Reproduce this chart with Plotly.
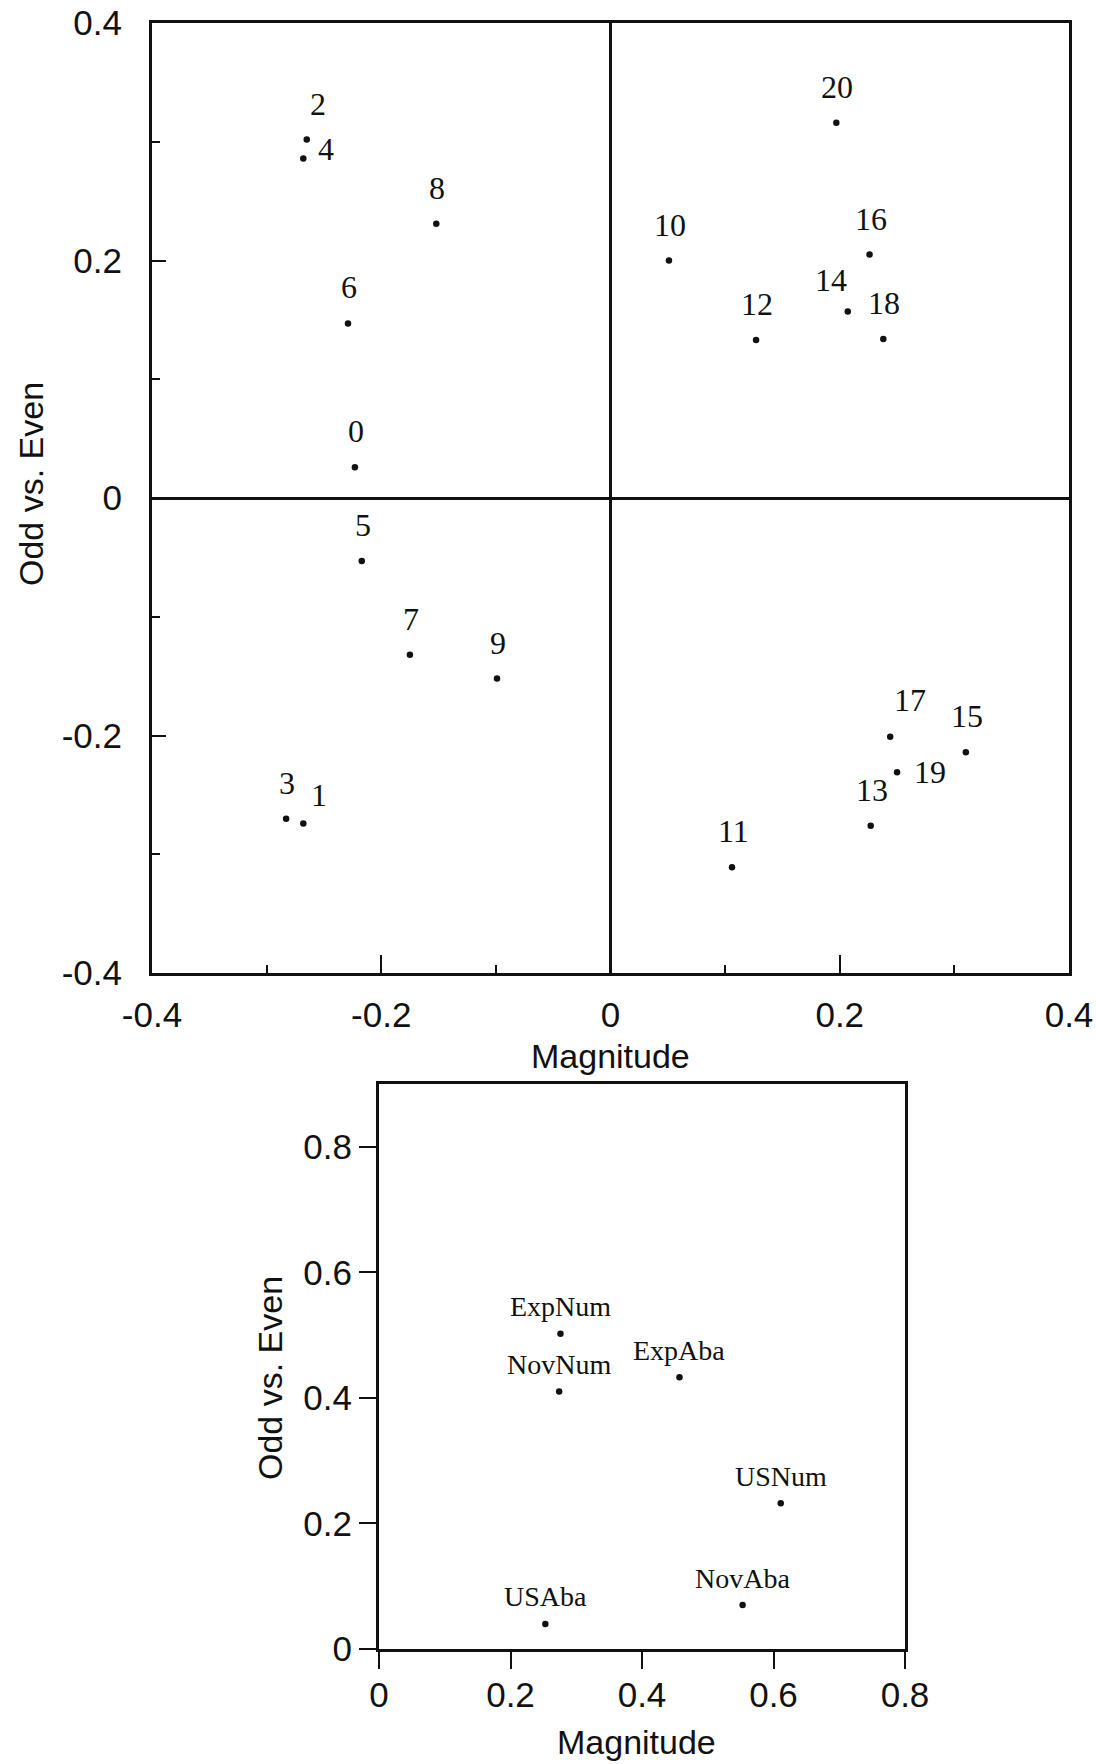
import plotly.graph_objects as go

# ---- Upper panel: numerals 0-20 on Magnitude vs. Odd/Even dimensions ----
num_labels = ["0", "1", "2", "3", "4", "5", "6", "7", "8", "9", "10",
              "11", "12", "13", "14", "15", "16", "17", "18", "19", "20"]
num_magnitude = [-0.223, -0.268, -0.265, -0.283, -0.268, -0.217, -0.229, -0.175,
                 -0.152, -0.099, 0.051, 0.106, 0.127, 0.227, 0.207, 0.310,
                 0.226, 0.244, 0.238, 0.250, 0.197]
num_odd_even = [0.026, -0.274, 0.302, -0.270, 0.286, -0.053, 0.147, -0.132,
                0.231, -0.152, 0.200, -0.311, 0.133, -0.276, 0.157, -0.214,
                0.205, -0.201, 0.134, -0.231, 0.316]

# ---- Lower panel: groups ----
grp_labels = ["ExpNum", "NovNum", "ExpAba", "USNum", "NovAba", "USAba"]
grp_magnitude = [0.276, 0.274, 0.457, 0.611, 0.553, 0.253]
grp_odd_even = [0.502, 0.410, 0.433, 0.232, 0.070, 0.040]

# tick labels
top_ticks = [-0.4, -0.2, 0, 0.2, 0.4]
top_ticktext = ["-0.4", "-0.2", "0", "0.2", "0.4"]
bot_xticks = [0, 0.2, 0.4, 0.6, 0.8]
bot_xticktext = ["0", "0.2", "0.4", "0.6", "0.8"]
bot_yticks = [0, 0.2, 0.4, 0.6, 0.8]
bot_yticktext = ["0", "0.2", "0.4", "0.6", "0.8"]

W, H = 1096, 1764
SANS = "Liberation Sans, Arial, sans-serif"
SERIF = "Liberation Serif, Times New Roman, serif"
INK = "#111111"

# pixel offsets (x right, y up) for numeral labels; default is centred above
num_shift = {"2": (11, 35), "4": (23, 9), "14": (-17, 32), "19": (33, 0),
             "1": (16, 28), "17": (20, 37)}
DEFAULT_SHIFT = (1, 36)

fig = go.Figure()

fig.add_trace(go.Scatter(
    x=num_magnitude, y=num_odd_even, mode="markers",
    marker=dict(size=6.5, color=INK), xaxis="x", yaxis="y", showlegend=False,
    hoverinfo="skip"))
fig.add_trace(go.Scatter(
    x=grp_magnitude, y=grp_odd_even, mode="markers",
    marker=dict(size=6.5, color=INK), xaxis="x2", yaxis="y2", showlegend=False,
    hoverinfo="skip"))

annotations = []
for lab, xv, yv in zip(num_labels, num_magnitude, num_odd_even):
    dx, dy = num_shift.get(lab, DEFAULT_SHIFT)
    annotations.append(dict(x=xv, y=yv, xref="x", yref="y", text=lab,
                            showarrow=False, xshift=dx, yshift=dy,
                            font=dict(family=SERIF, size=32, color=INK)))
for lab, xv, yv in zip(grp_labels, grp_magnitude, grp_odd_even):
    annotations.append(dict(x=xv, y=yv, xref="x2", yref="y2", text=lab,
                            showarrow=False, xshift=0, yshift=27,
                            font=dict(family=SERIF, size=28, color=INK)))


def px(xp, yp):
    return xp / W, 1 - yp / H


for text, (cx, cy), ang in [("Magnitude", (610, 1056), 0),
                            ("Odd vs. Even", (31, 484), -90),
                            ("Magnitude", (636, 1742), 0),
                            ("Odd vs. Even", (270, 1378), -90)]:
    ax_, ay_ = px(cx, cy)
    annotations.append(dict(x=ax_, y=ay_, xref="paper", yref="paper", text=text,
                            showarrow=False, textangle=ang,
                            xanchor="center", yanchor="middle",
                            font=dict(family=SANS, size=34, color=INK)))

tickfont = dict(family=SANS, size=35, color=INK)
line_common = dict(showline=True, linecolor=INK, linewidth=3, mirror=True,
                   showgrid=False, tickcolor=INK, tickfont=tickfont,
                   automargin=False)

fig.update_layout(
    template="none",
    width=W, height=H,
    margin=dict(l=0, r=0, t=0, b=0),
    paper_bgcolor="white", plot_bgcolor="white",
    annotations=annotations,
    xaxis=dict(domain=[152 / W, 1069 / W], range=[-0.4, 0.4], anchor="y",
               tickmode="array", tickvals=top_ticks, ticktext=top_ticktext,
               ticks="inside", ticklen=18, tickwidth=2, ticklabelstandoff=9,
               zeroline=True, zerolinecolor=INK, zerolinewidth=3,
               minor=dict(ticks="inside", ticklen=8, tickwidth=2, tickcolor=INK,
                          tickmode="linear", tick0=0, dtick=0.1, showgrid=False),
               **line_common),
    yaxis=dict(domain=[1 - 973 / H, 1 - 23 / H], range=[-0.4, 0.4], anchor="x",
               tickmode="array", tickvals=top_ticks, ticktext=top_ticktext,
               ticks="inside", ticklen=14, tickwidth=2, ticklabelstandoff=20,
               zeroline=True, zerolinecolor=INK, zerolinewidth=3,
               minor=dict(ticks="inside", ticklen=8, tickwidth=2, tickcolor=INK,
                          tickmode="linear", tick0=0, dtick=0.1, showgrid=False),
               **line_common),
    xaxis2=dict(domain=[379 / W, 905 / W], range=[0, 0.8], anchor="y2",
                tickmode="array", tickvals=bot_xticks, ticktext=bot_xticktext,
                ticks="outside", ticklen=17, tickwidth=2, ticklabelstandoff=-4,
                zeroline=False, **line_common),
    yaxis2=dict(domain=[1 - 1649 / H, 1 - 1084 / H], range=[0, 0.9], anchor="x2",
                tickmode="array", tickvals=bot_yticks, ticktext=bot_yticktext,
                ticks="outside", ticklen=17, tickwidth=2, ticklabelstandoff=0,
                zeroline=False, **line_common),
)

fig.write_html("out.html")
